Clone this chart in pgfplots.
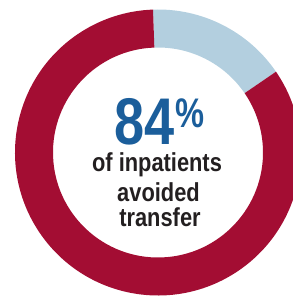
\documentclass[border=0pt]{standalone}
\usepackage{pgfplots}
\usepackage{pgfplotstable}
\pgfplotsset{compat=1.18}
\usepackage{fontspec}
\setmainfont{Liberation Sans}
\newfontfamily\narrow[FakeStretch=0.84]{Liberation Sans}
\newfontfamily\narrowB[FakeStretch=0.82]{Liberation Sans}
\newfontfamily\narrowC[FakeStretch=0.79]{Liberation Sans}
\definecolor{ringred}{HTML}{A30D33}
\definecolor{ringblue}{HTML}{B3CFDF}
\definecolor{numblue}{HTML}{1B5E9B}
\definecolor{txt}{HTML}{231F20}
\pgfplotstableread{
share value
avoided 84
transferred 16
}\shares
\begin{document}
\begin{tikzpicture}
\pgfplotstablegetelem{0}{value}\of\shares \let\vavoid\pgfplotsretval
\pgfplotstablegetelem{1}{value}\of\shares \let\vtrans\pgfplotsretval
\pgfmathsetmacro{\astart}{92}
\pgfmathsetmacro{\amid}{92-3.6*\vtrans}
\pgfmathsetmacro{\aend}{\amid-3.6*\vavoid}
\begin{axis}[
  hide axis, scale only axis,
  width=219.75pt, height=222.75pt,
  xmin=0, xmax=293, ymin=0, ymax=297,
  clip=true,
]
\path (axis cs:0,0) rectangle (axis cs:293,297);
% blue segment (16%)
\fill[ringblue, overlay] (axis cs:158,144.5) ++(\astart:107.25pt) arc[start angle=\astart, end angle=\amid, radius=107.25pt]
  -- ++(\amid:-28.5pt) arc[start angle=\amid, end angle=\astart, radius=78.75pt] -- cycle;
% red segment (84%)
\fill[ringred, overlay] (axis cs:158,144.5) ++(\amid:107.25pt) arc[start angle=\amid, end angle=\aend, radius=107.25pt]
  -- ++(\aend:-28.5pt) arc[start angle=\aend, end angle=\amid, radius=78.75pt] -- cycle;
\node[anchor=base, inner sep=0pt, text=numblue, font=\narrowB\bfseries\fontsize{49.5}{49.5}\selectfont]
  at (axis cs:159.5,152) {84\kern1pt\raisebox{12.75pt}{\narrowC\fontsize{31}{31}\selectfont\%}};
\node[anchor=base, inner sep=0pt, text=txt, font=\narrow\bfseries\fontsize{19.5}{19.5}\selectfont]
  at (axis cs:157,125) {of inpatients};
\node[anchor=base, inner sep=0pt, text=txt, font=\narrow\bfseries\fontsize{19.5}{19.5}\selectfont]
  at (axis cs:158.5,95.3) {avoided};
\node[anchor=base, inner sep=0pt, text=txt, font=\narrow\bfseries\fontsize{19.5}{19.5}\selectfont]
  at (axis cs:160,70.3) {transfer};
\end{axis}
\end{tikzpicture}
\end{document}
